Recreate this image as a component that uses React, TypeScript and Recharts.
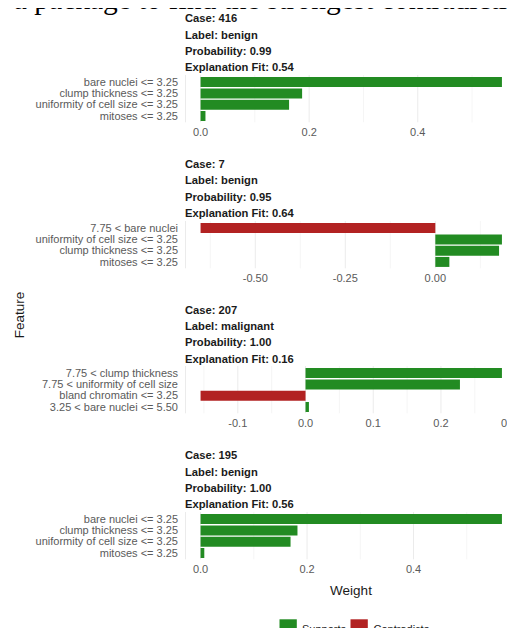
import { BarChart, Bar, XAxis, YAxis, CartesianGrid, ReferenceLine, Cell } from "recharts";

const caseIds = ["416", "7", "207", "195"];
const caseLabels = ["benign", "benign", "malignant", "benign"];
const probabilities = ["0.99", "0.95", "1.00", "1.00"];
const explanationFits = ["0.54", "0.64", "0.16", "0.56"];

const features416 = ["bare nuclei <= 3.25", "clump thickness <= 3.25", "uniformity of cell size <= 3.25", "mitoses <= 3.25"];
const weights416 = [0.555, 0.187, 0.163, 0.009];

const features7 = ["7.75 < bare nuclei", "uniformity of cell size <= 3.25", "clump thickness <= 3.25", "mitoses <= 3.25"];
const weights7 = [-0.652, 0.185, 0.177, 0.039];

const features207 = ["7.75 < clump thickness", "7.75 < uniformity of cell size", "bland chromatin <= 3.25", "3.25 < bare nuclei <= 5.50"];
const weights207 = [0.29, 0.228, -0.155, 0.005];

const features195 = ["bare nuclei <= 3.25", "clump thickness <= 3.25", "uniformity of cell size <= 3.25", "mitoses <= 3.25"];
const weights195 = [0.566, 0.182, 0.169, 0.007];

const features = [features416, features7, features207, features195];
const weights = [weights416, weights7, weights207, weights195];

const majorTicks = [[0, 0.2, 0.4], [-0.5, -0.25, 0], [-0.1, 0, 0.1, 0.2, 0.3], [0, 0.2, 0.4]];
const minorTicks = [[0.1, 0.3, 0.5], [-0.625, -0.375, -0.125, 0.125], [-0.15, -0.05, 0.05, 0.15, 0.25], [0.1, 0.3, 0.5]];
const tickDecimals = [1, 2, 1, 1];

const GREEN = "#228B22";
const RED = "#B22222";
const SANS = "'Liberation Sans', Arial, Helvetica, sans-serif";
const TICK_COLOR = "#5a5a5a";
const PERIOD = 145.7;

// plain single-line tick so long feature names don't wrap
const FeatureTick = (props: any) => {
  const { x, y, payload } = props;
  return (
    <text x={x} y={y} textAnchor="end" dominantBaseline="central" fontSize={11} fill={TICK_COLOR} fontFamily={SANS}>
      {payload.value}
    </text>
  );
};

const Panel = ({ index }: { index: number }) => {
  const data = features[index].map((f, i) => ({ feature: f, weight: weights[index][i] }));
  const vals = weights[index];
  const lo = Math.min(0, ...vals);
  const hi = Math.max(0, ...vals);
  const pad = (hi - lo) * 0.05;
  return (
    <div style={{ position: "absolute", left: 0, top: index * PERIOD }}>
      <BarChart
        width={530}
        height={150}
        data={data}
        layout="vertical"
        margin={{ top: 75, right: 13, bottom: 0, left: 0 }}
      >
        <CartesianGrid horizontal={false} stroke="#ebebeb" strokeWidth={1} />
        {minorTicks[index].map((v) => (
          <ReferenceLine key={v} x={v} stroke="#f2f2f2" strokeWidth={0.8} zIndex={-90} />
        ))}
        <XAxis
          type="number"
          domain={[lo - pad, hi + pad]}
          ticks={majorTicks[index]}
          interval={0}
          allowDataOverflow
          axisLine={false}
          tickLine={false}
          tickSize={0}
          tickMargin={6}
          height={27.7}
          tick={{ fill: TICK_COLOR, fontSize: 11, fontFamily: SANS }}
          tickFormatter={(v: number) => v.toFixed(tickDecimals[index])}
        />
        <YAxis
          type="category"
          dataKey="feature"
          width={185.5}
          interval={0}
          axisLine={false}
          tickLine={false}
          tickSize={0}
          tickMargin={7.5}
          padding={{ top: 1.1, bottom: 1.1 }}
          tick={<FeatureTick />}
        />
        <Bar dataKey="weight" barSize={10} isAnimationActive={false}>
          {data.map((d, i) => (
            <Cell key={i} fill={d.weight >= 0 ? GREEN : RED} />
          ))}
        </Bar>
      </BarChart>
    </div>
  );
};

const App = () => {
  const stripLines = (i: number) => [
    `Case: ${caseIds[i]}`,
    `Label: ${caseLabels[i]}`,
    `Probability: ${probabilities[i]}`,
    `Explanation Fit: ${explanationFits[i]}`,
  ];
  return (
    <div
      style={{
        position: "relative",
        width: 515,
        height: 636,
        margin: -8,
        overflow: "hidden",
        background: "#fff",
        fontFamily: SANS,
      }}
    >
      {caseIds.map((_, i) => (
        <Panel key={i} index={i} />
      ))}
      <svg width={515} height={636} style={{ position: "absolute", left: 0, top: 0, pointerEvents: "none" }}>
        <text x={-16.5} y={9} fontFamily="'Liberation Serif', 'Times New Roman', serif" fontSize={29.5} fill="#000">
          in a package to find the strongest contradicting
        </text>
        {caseIds.map((_, i) =>
          stripLines(i).map((line, k) => (
            <text
              key={`${i}-${k}`}
              x={185}
              y={i * PERIOD + 18.2 + k * 16.35}
              dominantBaseline="central"
              fontSize={11.2}
              fontWeight="bold"
              fill="#1a1a1a"
              fontFamily={SANS}
            >
              {line}
            </text>
          ))
        )}
        <text
          x={19}
          y={315}
          transform="rotate(-90 19 315)"
          textAnchor="middle"
          dominantBaseline="central"
          fontSize={13.5}
          fill="#1a1a1a"
          fontFamily={SANS}
        >
          Feature
        </text>
        <text x={351} y={590} textAnchor="middle" dominantBaseline="central" fontSize={13.5} fill="#1a1a1a" fontFamily={SANS}>
          Weight
        </text>
        <rect x={279.5} y={619.3} width={17.3} height={17.3} fill={GREEN} />
        <text x={302} y={629} dominantBaseline="central" fontSize={11} fill="#1a1a1a" fontFamily={SANS}>
          Supports
        </text>
        <rect x={350.5} y={619.3} width={17.3} height={17.3} fill={RED} />
        <text x={373.5} y={629} dominantBaseline="central" fontSize={11} fill="#1a1a1a" fontFamily={SANS}>
          Contradicts
        </text>
      </svg>
    </div>
  );
};

export default App;
